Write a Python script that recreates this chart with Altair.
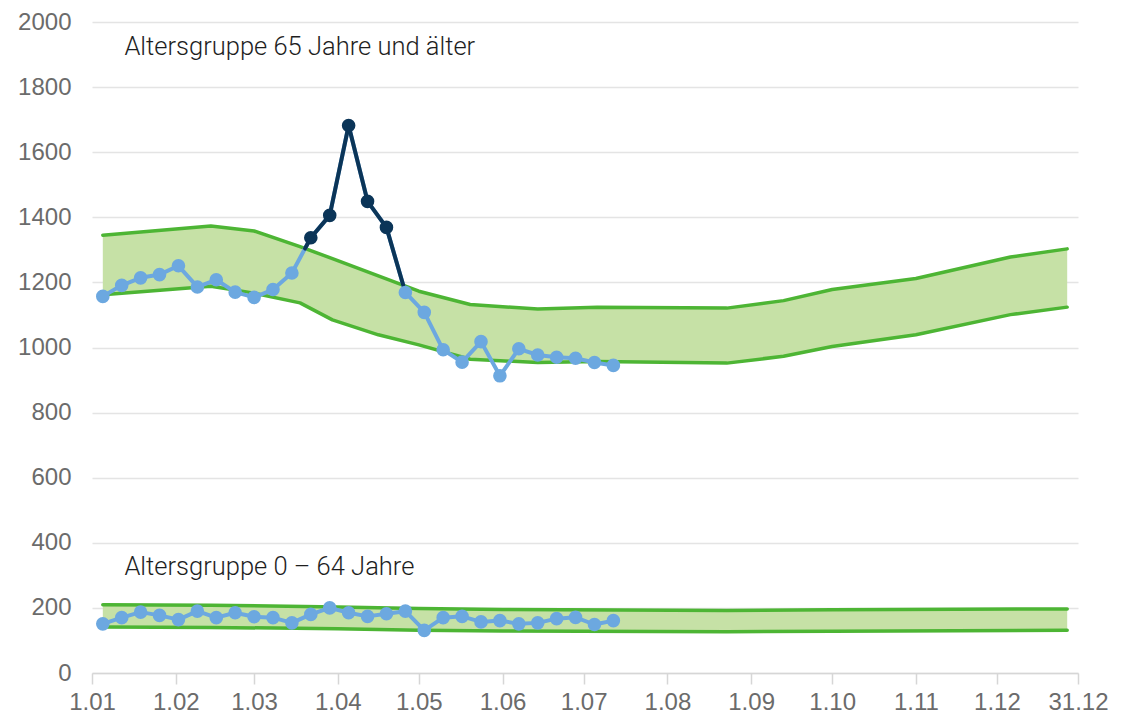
import altair as alt
import pandas as pd
import numpy as np

# ---------------- data ----------------
week_start = "2020-01-05"
n_weeks = 28
old_values = [1157, 1191, 1214, 1224, 1251, 1186, 1208, 1170, 1154, 1178, 1229,
              1337, 1406, 1682, 1449, 1369, 1169, 1108, 993, 955, 1018, 913,
              996, 977, 970, 967, 954, 945]
young_values = [151, 170, 187, 177, 164, 190, 170, 185, 173, 170, 154, 180, 200,
                185, 174, 182, 190, 131, 170, 174, 157, 161, 151, 154, 167, 171,
                149, 161]

old_band_dates = ["2020-01-05", "2020-02-14", "2020-03-01", "2020-03-18",
                  "2020-03-30", "2020-04-16", "2020-05-01", "2020-05-20",
                  "2020-06-14", "2020-07-06", "2020-08-23", "2020-09-13",
                  "2020-10-01", "2020-11-01", "2020-12-06", "2020-12-27"]
old_upper = [1345, 1373, 1358, 1310, 1273, 1220, 1173, 1132, 1118, 1124, 1121,
             1144, 1178, 1212, 1278, 1303]
old_lower = [1162, 1188, 1167, 1137, 1085, 1039, 1008, 964, 954, 957, 952, 973,
             1003, 1039, 1101, 1124]

young_band_dates = ["2020-01-05", "2020-02-14", "2020-04-01", "2020-05-01",
                    "2020-06-01", "2020-08-23", "2020-10-01", "2020-12-27"]
young_upper = [210, 208, 203, 198, 195, 192, 194, 197]
young_lower = [141, 140, 136, 131, 129, 127, 128, 131]

x_tick_dates = ["2020-01-01", "2020-02-01", "2020-03-01", "2020-04-01",
                "2020-05-01", "2020-06-01", "2020-07-01", "2020-08-01",
                "2020-09-01", "2020-10-01", "2020-11-01", "2020-12-01",
                "2020-12-31"]
y_ticks = list(range(0, 2001, 200))

label_old = "Altersgruppe 65 Jahre und älter"
label_young = "Altersgruppe 0 – 64 Jahre"

# ---------------- colors ----------------
C_LIGHT = "#6CA8E0"
C_DARK = "#0B3558"
C_GREEN = "#4DB534"
C_FILL = "#C6E1A6"

# ---------------- tables ----------------
base = pd.Timestamp("2020-01-01")
weeks = pd.date_range(week_start, periods=n_weeks, freq="7D")


def fmt(ts):
    return pd.Timestamp(ts).strftime("%Y-%m-%dT%H:%M:%S")


def days(ts):
    return (pd.Timestamp(ts) - base) / pd.Timedelta(days=1)


band_rows = []
band_line_rows = []
for grp, bdates, lo, hi in [("old", old_band_dates, old_lower, old_upper),
                            ("young", young_band_dates, young_lower, young_upper)]:
    for d, l, h in zip(bdates, lo, hi):
        band_rows.append({"date": fmt(d), "value": l, "value2": h, "group": grp})
        band_line_rows.append({"date": fmt(d), "value": l, "series": grp + "_lo"})
        band_line_rows.append({"date": fmt(d), "value": h, "series": grp + "_hi"})
band_df = pd.DataFrame(band_rows)
band_line_df = pd.DataFrame(band_line_rows)

series_rows = []
dark_rows = []
seg_id = 0
for grp, vals, bdates, hi in [("old", old_values, old_band_dates, old_upper),
                              ("young", young_values, young_band_dates, young_upper)]:
    bd = np.array([days(d) for d in bdates])
    wd = np.array([days(w) for w in weeks])
    v = np.array(vals, dtype=float)
    diff = v - np.interp(wd, bd, np.array(hi, dtype=float))
    for w, val, dv in zip(weeks, vals, diff):
        series_rows.append({"date": fmt(w), "value": val, "group": grp,
                            "exceed": bool(dv > 0)})
    for i in range(len(v) - 1):
        d0, d1 = diff[i], diff[i + 1]
        if d0 <= 0 and d1 <= 0:
            continue
        pts = []
        for j, dj in [(i, d0), (i + 1, d1)]:
            if dj > 0:
                pts.append((wd[j], v[j]))
            else:
                t = d0 / (d0 - d1)
                pts.append((wd[i] + t * (wd[i + 1] - wd[i]),
                            v[i] + t * (v[i + 1] - v[i])))
        for dd, vv in pts:
            dark_rows.append({"date": fmt(base + pd.Timedelta(days=float(dd))),
                              "value": float(vv), "seg": seg_id})
        seg_id += 1
series_df = pd.DataFrame(series_rows)
dark_df = pd.DataFrame(dark_rows)

text_df = pd.DataFrame([
    {"date": fmt("2020-01-13"), "value": 1900, "label": label_old},
    {"date": fmt("2020-01-13"), "value": 302, "label": label_young},
])

# ---------------- encodings ----------------
x_enc = alt.X(
    "date:T",
    title=None,
    scale=alt.Scale(domain=[fmt("2020-01-01"), fmt("2020-12-31")]),
    axis=alt.Axis(
        values=[fmt(d) for d in x_tick_dates],
        format="%-d.%m",
        grid=False,
        domainColor="#d6d6d6",
        domainWidth=1.5,
        tickColor="#d6d6d6",
        tickWidth=1.5,
        tickSize=11,
        labelPadding=6,
        labelFlush=False,
        labelOverlap=False,
        labelBound=False,
        labelFont="Liberation Sans",
        labelFontSize=24,
        labelColor="#6b6b6b",
    ),
)
y_enc = alt.Y(
    "value:Q",
    title=None,
    scale=alt.Scale(domain=[0, 2000], nice=False, zero=True),
    axis=alt.Axis(
        values=y_ticks,
        format="d",
        grid=True,
        gridColor="#e4e4e4",
        gridWidth=1.5,
        domain=False,
        ticks=False,
        labelPadding=21,
        labelFont="Liberation Sans",
        labelFontSize=24,
        labelColor="#6b6b6b",
    ),
)

area = alt.Chart(band_df).mark_area(color=C_FILL, opacity=1, interpolate="linear").encode(
    x=x_enc, y=y_enc, y2="value2:Q", detail="group:N"
)
band_lines = alt.Chart(band_line_df).mark_line(
    color=C_GREEN, strokeWidth=3.5, strokeCap="round", strokeJoin="round"
).encode(x=x_enc, y=y_enc, detail="series:N")

light_line = alt.Chart(series_df).mark_line(
    color=C_LIGHT, strokeWidth=4, strokeJoin="round"
).encode(x=x_enc, y=y_enc, detail="group:N")

dark_line = alt.Chart(dark_df).mark_line(
    color=C_DARK, strokeWidth=4, strokeCap="round", strokeJoin="round"
).encode(x=x_enc, y=y_enc, detail="seg:N")

light_pts = alt.Chart(series_df[~series_df["exceed"]]).mark_circle(
    color=C_LIGHT, opacity=1, size=185
).encode(x=x_enc, y=y_enc)

dark_pts = alt.Chart(series_df[series_df["exceed"]]).mark_circle(
    color=C_DARK, opacity=1, size=185
).encode(x=x_enc, y=y_enc)

texts = alt.Chart(text_df).mark_text(
    align="left", baseline="alphabetic", font="Roboto", fontSize=25.5,
    fontWeight=300, color="#1e1e1e"
).encode(x=x_enc, y=y_enc, text="label:N")

chart = alt.layer(
    area, band_lines, light_line, dark_line, light_pts, dark_pts, texts
).properties(
    width=986,
    height=651,
    autosize="none",
    background="white",
    padding={"left": 84, "top": 14, "right": 30, "bottom": 44},
).configure_view(stroke=None)

chart.save("out.html", embed_options={"renderer": "svg", "actions": False})
